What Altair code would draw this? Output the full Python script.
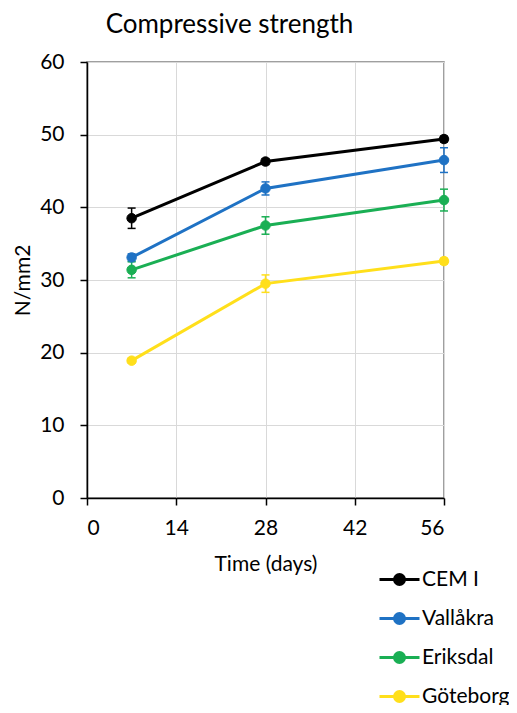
import altair as alt
import pandas as pd

days = [7, 28, 56]
series_names = ["CEM I", "Vallåkra", "Eriksdal", "Göteborg"]
cem_vals = [38.5, 46.3, 49.4]
cem_err = [1.4, 0.4, 0.4]
vall_vals = [33.1, 42.6, 46.5]
vall_err = [0.5, 0.9, 1.7]
erik_vals = [31.4, 37.5, 41.0]
erik_err = [1.1, 1.2, 1.5]
gote_vals = [18.9, 29.5, 32.6]
gote_err = [0.3, 1.2, 0.4]
colors = ["#000000", "#1f72c4", "#1aaf54", "#ffdf1b"]
x_ticks = [0, 14, 28, 42, 56]
y_ticks = [0, 10, 20, 30, 40, 50, 60]

rows = []
for name, vals, errs in zip(series_names,
                            [cem_vals, vall_vals, erik_vals, gote_vals],
                            [cem_err, vall_err, erik_err, gote_err]):
    for d, v, e in zip(days, vals, errs):
        rows.append({"series": name, "day": d, "value": v, "lo": v - e, "hi": v + e})
df = pd.DataFrame(rows)

FONT = "Lato"
sym_path = "M-2,0H2M0.5,0A0.5,0.5,0,1,1,-0.5,0A0.5,0.5,0,1,1,0.5,0Z"

xs = alt.X("day:Q", scale=alt.Scale(domain=[0, 56], nice=False),
           axis=alt.Axis(values=x_ticks, title="Time (days)", grid=True))
ys = alt.Y("value:Q", scale=alt.Scale(domain=[0, 60], nice=False),
           axis=alt.Axis(values=y_ticks, title="N/mm2", grid=True))

cscale = alt.Scale(domain=series_names, range=colors)
legend = alt.Legend(title=None, orient="none", legendX=301, legendY=506,
                    symbolType=sym_path, symbolSize=400, symbolStrokeWidth=3,
                    symbolOpacity=1,
                    labelFont=FONT, labelFontSize=21, labelColor="#000000",
                    labelOffset=11, rowPadding=16, padding=0)
color = alt.Color("series:N", scale=cscale, legend=legend, sort=series_names)
fill = alt.Fill("series:N", scale=cscale, legend=legend, sort=series_names)

base = alt.Chart(df)

err_rule = base.mark_rule(strokeWidth=1.5).encode(
    x="day:Q", y="lo:Q", y2="hi:Q", color=color)
cap_lo = base.mark_tick(orient="horizontal", size=8, thickness=1.5, opacity=1).encode(
    x="day:Q", y="lo:Q", color=color)
cap_hi = base.mark_tick(orient="horizontal", size=8, thickness=1.5, opacity=1).encode(
    x="day:Q", y="hi:Q", color=color)

lines = base.mark_line(strokeWidth=3).encode(
    x=xs, y=ys, color=color, order="day:Q")
points = base.mark_point(filled=False, size=90, strokeWidth=1, opacity=1).encode(
    x="day:Q", y="value:Q", color=color, fill=fill)

chart = alt.layer(lines, err_rule, cap_lo, cap_hi, points).properties(
    width=357, height=436,
    autosize=alt.AutoSizeParams(type="none"),
    padding={"left": 79, "top": 54, "right": 65, "bottom": 207},
    title=alt.TitleParams("Compressive strength", font=FONT, fontSize=26,
                          fontWeight="normal", color="#000000",
                          anchor="middle", dx=-36, offset=13),
).configure_view(
    stroke="#808080", strokeWidth=1.5
).configure_axis(
    labelFont=FONT, labelFontSize=21, labelColor="#000000",
    titleFont=FONT, titleFontSize=21, titleFontWeight="normal", titleColor="#000000",
    domainColor="#000000", domainWidth=1.5,
    tickColor="#000000", tickWidth=1.5, tickSize=7,
    gridColor="#d9d9d9", gridWidth=1,
).configure_axisY(
    labelPadding=16, titlePadding=6
).configure_axisX(
    labelPadding=12, titlePadding=15
)

chart.save("out.html", embed_options={"renderer": "svg", "actions": False})
